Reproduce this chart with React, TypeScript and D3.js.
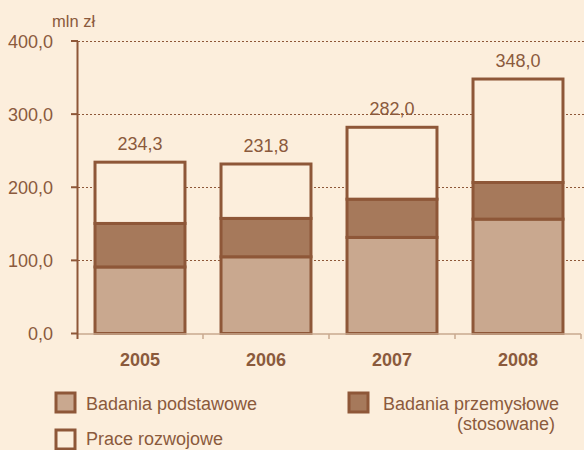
import React, { useEffect, useRef } from 'react'
import * as d3 from 'd3'

const years = ['2005', '2006', '2007', '2008']
const podstawowe = [91.0, 104.9, 131.4, 156.4]
const przemyslowe = [59.5, 52.5, 52.3, 50.1]
const rozwojowe = [83.8, 74.4, 98.3, 141.5]
const totals = ['234,3', '231,8', '282,0', '348,0']
const yTicks = [0, 100, 200, 300, 400]

const seriesKeys = ['podstawowe', 'przemyslowe', 'rozwojowe']

const BG = '#fceedc'
const DARK = '#8e5738'
const TEXT = '#8b5a3c'
const fills: Record<string, string> = {
  podstawowe: '#c9a88f',
  przemyslowe: '#a6795b',
  rozwojowe: BG,
}

export default function App() {
  const svgRef = useRef<SVGSVGElement>(null)

  useEffect(() => {
    const svg = d3.select(svgRef.current)
    svg.selectAll('*').remove()

    const width = 584
    const height = 450
    const font = 'Liberation Sans, Arial, sans-serif'

    svg.append('rect').attr('width', width).attr('height', height).attr('fill', BG)

    const x = d3.scaleBand().domain(years).range([77, 581]).paddingInner(0.286).paddingOuter(0.143)
    const y = d3.scaleLinear().domain([0, 400]).range([333.5, 41])

    // gridlines
    svg
      .append('g')
      .selectAll('line')
      .data(yTicks.filter((d) => d > 0))
      .enter()
      .append('line')
      .attr('x1', 78)
      .attr('x2', width)
      .attr('y1', (d) => Math.round(y(d)) + 0.5)
      .attr('y2', (d) => Math.round(y(d)) + 0.5)
      .attr('stroke', DARK)
      .attr('stroke-width', 1)
      .attr('stroke-dasharray', '2,2')

    // stacked bars
    const table = years.map((yr, i) => ({
      year: yr,
      podstawowe: podstawowe[i],
      przemyslowe: przemyslowe[i],
      rozwojowe: rozwojowe[i],
    }))
    const stacked = d3.stack<any>().keys(seriesKeys)(table)

    stacked.forEach((layer) => {
      svg
        .append('g')
        .selectAll('rect')
        .data(layer)
        .enter()
        .append('rect')
        .attr('x', (d) => x(d.data.year)!)
        .attr('width', x.bandwidth())
        .attr('y', (d) => y(d[1]))
        .attr('height', (d) => y(d[0]) - y(d[1]))
        .attr('fill', fills[layer.key])
        .attr('stroke', DARK)
        .attr('stroke-width', 3)
    })

    // total labels
    svg
      .append('g')
      .selectAll('text')
      .data(years)
      .enter()
      .append('text')
      .attr('x', (d) => x(d)! + x.bandwidth() / 2)
      .attr('y', (d, i) => y(podstawowe[i] + przemyslowe[i] + rozwojowe[i]) - 12)
      .attr('text-anchor', 'middle')
      .attr('font-family', font)
      .attr('font-size', 18)
      .attr('fill', TEXT)
      .text((d, i) => totals[i])

    // x axis
    const xAxis = svg.append('g')
    xAxis
      .append('line')
      .attr('x1', 77)
      .attr('x2', 581)
      .attr('y1', 334)
      .attr('y2', 334)
      .attr('stroke', '#c9a88f')
      .attr('stroke-width', 1.5)
    xAxis
      .selectAll('line.tick')
      .data(years)
      .enter()
      .append('line')
      .attr('class', 'tick')
      .attr('x1', (d) => x(d)! + x.bandwidth() + x.step() * 0.143)
      .attr('x2', (d) => x(d)! + x.bandwidth() + x.step() * 0.143)
      .attr('y1', 334)
      .attr('y2', 339)
      .attr('stroke', '#c9a88f')
      .attr('stroke-width', 1.5)
    xAxis
      .selectAll('text')
      .data(years)
      .enter()
      .append('text')
      .attr('x', (d) => x(d)! + x.bandwidth() / 2)
      .attr('y', 366)
      .attr('text-anchor', 'middle')
      .attr('font-family', font)
      .attr('font-weight', 'bold')
      .attr('font-size', 18)
      .attr('fill', TEXT)
      .text((d) => d)

    // y axis
    const yAxis = svg.append('g')
    yAxis
      .append('line')
      .attr('x1', 77.5)
      .attr('x2', 77.5)
      .attr('y1', y(400))
      .attr('y2', 339)
      .attr('stroke', DARK)
      .attr('stroke-width', 2)
    yAxis
      .selectAll('line.tick')
      .data(yTicks)
      .enter()
      .append('line')
      .attr('class', 'tick')
      .attr('x1', 71)
      .attr('x2', 78)
      .attr('y1', (d) => y(d))
      .attr('y2', (d) => y(d))
      .attr('stroke', DARK)
      .attr('stroke-width', 2)
    yAxis
      .selectAll('text')
      .data(yTicks)
      .enter()
      .append('text')
      .attr('x', 53)
      .attr('y', (d) => y(d) + 6.5)
      .attr('text-anchor', 'end')
      .attr('font-family', font)
      .attr('font-size', 18)
      .attr('fill', TEXT)
      .text((d) => d3.format('.1f')(d).replace('.', ','))

    svg
      .append('text')
      .attr('x', 52)
      .attr('y', 27)
      .attr('font-family', font)
      .attr('font-size', 16.5)
      .attr('fill', TEXT)
      .text('mln zł')

    // legend
    const legend = [
      { key: 'podstawowe', label: 'Badania podstawowe', sx: 56, sy: 393, tx: 86, ty: 410 },
      { key: 'przemyslowe', label: 'Badania przemysłowe', sx: 349, sy: 393, tx: 383, ty: 410 },
      { key: 'rozwojowe', label: 'Prace rozwojowe', sx: 56, sy: 430, tx: 86, ty: 445 },
    ]
    const lg = svg.append('g')
    legend.forEach((l) => {
      lg.append('rect')
        .attr('x', l.sx)
        .attr('y', l.sy)
        .attr('width', 19)
        .attr('height', 19)
        .attr('fill', fills[l.key])
        .attr('stroke', DARK)
        .attr('stroke-width', 3)
      lg.append('text')
        .attr('x', l.tx)
        .attr('y', l.ty)
        .attr('font-family', font)
        .attr('font-size', 18)
        .attr('fill', TEXT)
        .text(l.label)
    })
    lg.append('text')
      .attr('x', 555)
      .attr('y', 430)
      .attr('text-anchor', 'end')
      .attr('font-family', font)
      .attr('font-size', 18)
      .attr('fill', TEXT)
      .text('(stosowane)')
  }, [])

  return (
    <svg
      ref={svgRef}
      width={584}
      height={450}
      style={{ position: 'absolute', left: 0, top: 0, display: 'block' }}
    ></svg>
  )
}
